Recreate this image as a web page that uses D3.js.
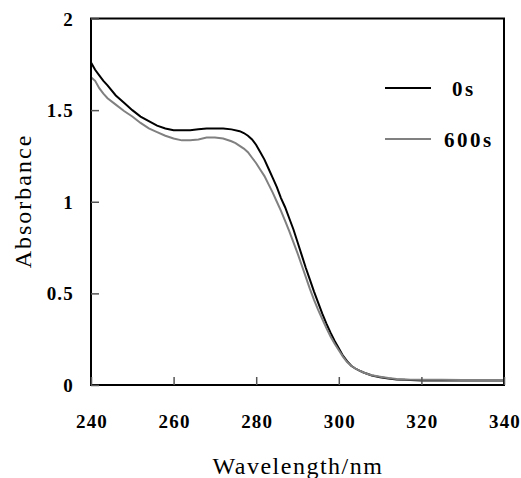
<!DOCTYPE html>
<html>
<head>
<meta charset="utf-8">
<script src="https://cdn.jsdelivr.net/npm/d3@7"></script>
<style>
body { margin: 0; background: #fff; }
svg text { font-family: "Liberation Serif", "DejaVu Serif", serif; fill: #000; }
</style>
</head>
<body>
<div id="chart"></div>
<script>
// wavelengths (nm) and absorbance
var wl0 = [240,241,242,243,244,246,248,250,252,254,256,258,260,262,264,266,268,270,272,274,276,277,278,279,280,281,282,283,284,285,286,287,288,289,290,291,292,293,294,295,296,297,298,299,300,301,302,303,304,305,306,307,308,310,312,314,316,320,325,330,335,340]
var abs0 = [1.76,1.72,1.69,1.66,1.635,1.58,1.54,1.50,1.465,1.44,1.415,1.40,1.39,1.39,1.39,1.395,1.40,1.40,1.40,1.395,1.385,1.375,1.36,1.34,1.31,1.27,1.23,1.18,1.13,1.08,1.02,0.97,0.91,0.85,0.78,0.71,0.64,0.575,0.51,0.45,0.39,0.335,0.285,0.24,0.20,0.16,0.13,0.105,0.09,0.078,0.068,0.06,0.052,0.042,0.035,0.03,0.028,0.025,0.025,0.025,0.025,0.025]

var wl600 = [240,241,242,243,244,246,248,250,252,254,256,258,260,262,264,266,268,270,272,274,275,276,277,278,279,280,281,282,283,284,285,286,287,288,289,290,291,292,293,294,295,296,297,298,299,300,301,302,303,304,305,306,307,308,310,312,314,316,320,325,330,335,340]
var abs600 = [1.68,1.66,1.62,1.59,1.565,1.53,1.495,1.465,1.43,1.40,1.38,1.36,1.345,1.335,1.335,1.34,1.35,1.35,1.345,1.33,1.32,1.305,1.29,1.27,1.24,1.21,1.175,1.14,1.095,1.05,1.00,0.95,0.895,0.84,0.78,0.72,0.655,0.59,0.525,0.465,0.41,0.36,0.31,0.265,0.225,0.19,0.155,0.125,0.105,0.09,0.078,0.068,0.06,0.053,0.045,0.038,0.033,0.03,0.028,0.028,0.027,0.027,0.027]

var seriesNames = ["0s", "600s"]
var seriesColors = ["#000000", "#808080"]
var xTicks = [240, 260, 280, 300, 320, 340]
var yTicks = [0, 0.5, 1, 1.5, 2]

var width = 521, height = 478
var plotLeft = 91, plotTop = 18.5, plotRight = 504, plotBottom = 385

var svg = d3.select("#chart").append("svg").attr("width", width).attr("height", height)

var x = d3.scaleLinear().domain([240, 340]).range([plotLeft, plotRight])
var y = d3.scaleLinear().domain([0, 2]).range([plotBottom, plotTop])

// curves
var series = [
    wl0.map(function(w, i) { return [w, abs0[i]] }),
    wl600.map(function(w, i) { return [w, abs600[i]] })
]
var line = d3.line().x(function(d) { return x(d[0]) }).y(function(d) { return y(d[1]) })

svg.append("g").selectAll("path")
    .data(series)
    .enter().append("path")
    .attr("d", line)
    .attr("fill", "none")
    .attr("stroke", function(d, i) { return seriesColors[i] })
    .attr("stroke-width", 2)

// frame
svg.append("rect")
    .attr("x", plotLeft).attr("y", plotTop)
    .attr("width", plotRight - plotLeft).attr("height", plotBottom - plotTop)
    .attr("fill", "none").attr("stroke", "#000").attr("stroke-width", 2)

// axes, ticks pointing inward
var xAxis = svg.append("g")
    .attr("transform", "translate(0," + plotBottom + ")")
    .call(d3.axisTop(x).tickValues(xTicks).tickSize(8).tickFormat(""))
xAxis.select(".domain").remove()
xAxis.selectAll("line").attr("stroke", "#555").attr("stroke-width", 1.5)

var yAxis = svg.append("g")
    .attr("transform", "translate(" + plotLeft + ",0)")
    .call(d3.axisRight(y).tickValues(yTicks).tickSize(8).tickFormat(""))
yAxis.select(".domain").remove()
yAxis.selectAll("line").attr("stroke", "#555").attr("stroke-width", 1.5)

// tick labels
svg.append("g").selectAll("text")
    .data(xTicks)
    .enter().append("text")
    .attr("x", function(d) { return x(d) + 1 })
    .attr("y", 428)
    .attr("text-anchor", "middle")
    .attr("font-size", 19)
    .attr("font-weight", "bold")
    .attr("letter-spacing", 1.2)
    .text(function(d) { return d })

svg.append("g").selectAll("text")
    .data(yTicks)
    .enter().append("text")
    .attr("x", 74)
    .attr("y", function(d) { return y(d) + 7 })
    .attr("text-anchor", "end")
    .attr("font-size", 19)
    .attr("font-weight", "bold")
    .attr("letter-spacing", 1.2)
    .text(function(d) { return d })

// axis titles
svg.append("text")
    .attr("x", 298).attr("y", 474)
    .attr("text-anchor", "middle")
    .attr("font-size", 24)
    .attr("letter-spacing", 1.5)
    .text("Wavelength/nm")

svg.append("text")
    .attr("transform", "translate(31,201) rotate(-90)")
    .attr("text-anchor", "middle")
    .attr("font-size", 24)
    .attr("letter-spacing", 2)
    .text("Absorbance")

// legend
var legendY = [88, 139]
var legend = svg.append("g").selectAll("g")
    .data(seriesNames)
    .enter().append("g")
    .attr("transform", function(d, i) { return "translate(0," + legendY[i] + ")" })

legend.append("line")
    .attr("x1", 385).attr("x2", 431)
    .attr("y1", 0).attr("y2", 0)
    .attr("stroke", function(d, i) { return seriesColors[i] })
    .attr("stroke-width", 2)

legend.append("text")
    .attr("x", function(d, i) { return i == 0 ? 452 : 444 })
    .attr("y", 8)
    .attr("font-size", 21)
    .attr("font-weight", "bold")
    .attr("letter-spacing", 2.5)
    .text(function(d) { return d })
</script>
</body>
</html>
